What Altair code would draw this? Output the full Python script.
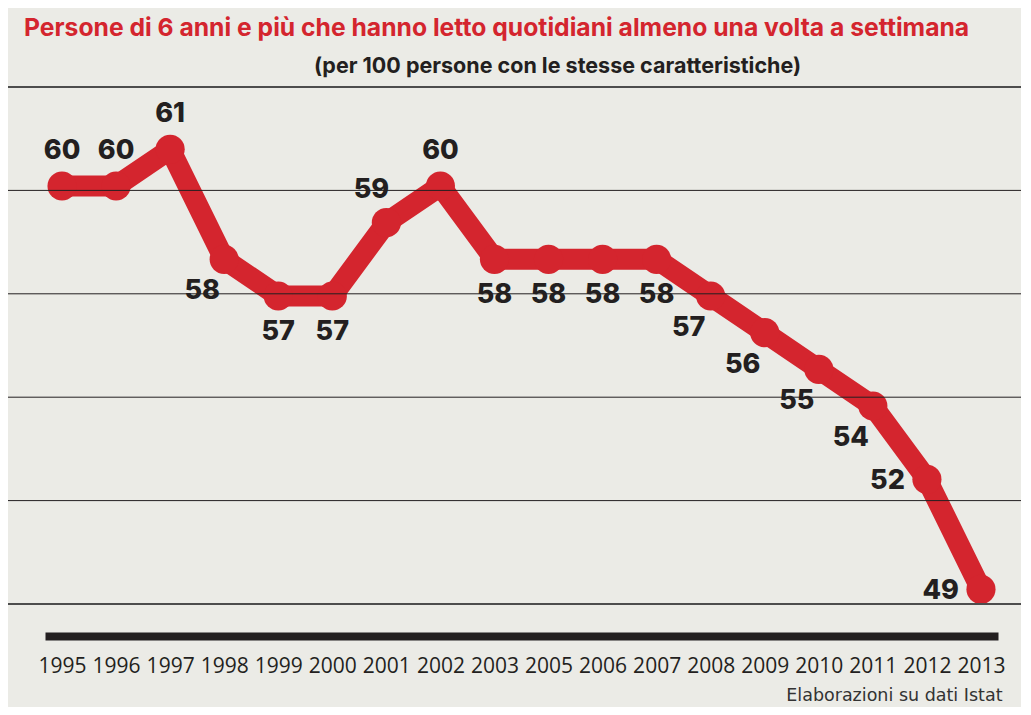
import altair as alt
import pandas as pd
import numpy as np

years = ["1995", "1996", "1997", "1998", "1999", "2000", "2001", "2002", "2003",
         "2005", "2006", "2007", "2008", "2009", "2010", "2011", "2012", "2013"]
values = [60, 60, 61, 58, 57, 57, 59, 60, 58, 58, 58, 58, 57, 56, 55, 54, 52, 49]
label_pos = ["above", "above", "above", "belowleft", "below", "below", "aboveleft", "above",
             "below", "below", "below", "below", "belowleft", "belowleft", "belowleft",
             "belowleft", "left", "left"]

title_text = "Persone di 6 anni e più che hanno letto quotidiani almeno una volta a settimana"
subtitle_text = "(per 100 persone con le stesse caratteristiche)"
source_text = "Elaborazioni su dati Istat"

df = pd.DataFrame({"year": years, "value": values, "pos": label_pos})

RED = "#d4252e"
INK = "#231f20"
BG = "#ebebe6"
y_lo, y_hi = 48.6, 62.7
grid_df = pd.DataFrame({"value": [float(v) for v in np.linspace(y_lo, y_hi, 6)]})
edge_test = f"datum.value < {y_lo + 0.01} || datum.value > {y_hi - 0.01}"

x_enc = alt.X(
    "year:N", sort=years,
    scale=alt.Scale(type="point", range=[37, 990], padding=0.315),
    axis=alt.Axis(
        title=source_text, domain=True, domainColor=INK, domainWidth=8,
        ticks=False, tickSize=0, grid=False, labelAngle=0, labelFont="Open Sans",
        labelFontSize=21, labelColor=INK, labelPadding=19, labelOverlap=False,
        labelFlush=False, offset=32,
        titleX=994, titleY=64, titleAlign="right", titleBaseline="alphabetic",
        titleFont="DejaVu Sans", titleFontSize=17.5, titleFontWeight="normal",
        titleColor="#333333",
    ),
)

y_enc = alt.Y(
    "value:Q",
    scale=alt.Scale(domain=[y_lo, y_hi], zero=False, nice=False),
    axis=alt.Axis(
        grid=False, labels=False, ticks=False, domain=False,
        title=subtitle_text, titleAngle=0, titleX=549, titleY=-15,
        titleAlign="center", titleBaseline="alphabetic", titleFont="Inter",
        titleFontSize=21.5, titleFontWeight="bold", titleColor=INK,
    ),
)

line = alt.Chart(df).mark_line(
    color=RED, strokeWidth=21, strokeJoin="round", strokeCap="round"
).encode(x=x_enc, y=y_enc)

points = alt.Chart(df).mark_circle(color=RED, size=850, opacity=1).encode(x=x_enc, y=y_enc)

grid = alt.Chart(grid_df).mark_rule().encode(
    y=y_enc,
    color={"condition": {"test": edge_test, "value": "#4d4d4d"}, "value": INK},
    strokeWidth={"condition": {"test": edge_test, "value": 2}, "value": 1},
)

placements = {
    "above": dict(align="center", dx=0, dy=-35),
    "aboveleft": dict(align="center", dx=-15, dy=-33),
    "below": dict(align="center", dx=0, dy=36),
    "belowleft": dict(align="center", dx=-22, dy=32),
    "left": dict(align="right", dx=-22, dy=2),
}

texts = []
for p, opts in placements.items():
    texts.append(
        alt.Chart(df).transform_filter(alt.datum.pos == p).mark_text(
            font="Inter", fontSize=27, fontWeight=800, color=INK,
            baseline="middle", **opts
        ).encode(x=x_enc, y=y_enc, text=alt.Text("value:Q"))
    )

chart = alt.layer(line, points, grid, *texts).properties(
    width=1013, height=517,
    title=alt.TitleParams(
        title_text, anchor="start", frame="group", dx=16, dy=6, offset=0,
        font="Inter", fontSize=24.7, fontWeight="bold", color=RED, baseline="alphabetic",
    ),
    autosize=alt.AutoSizeParams(type="none"),
    padding={"top": 79, "left": 0, "right": 0, "bottom": 103},
).configure(background=BG).configure_view(stroke=None)

chart.save("out.html", embed_options={"renderer": "svg", "actions": False})
